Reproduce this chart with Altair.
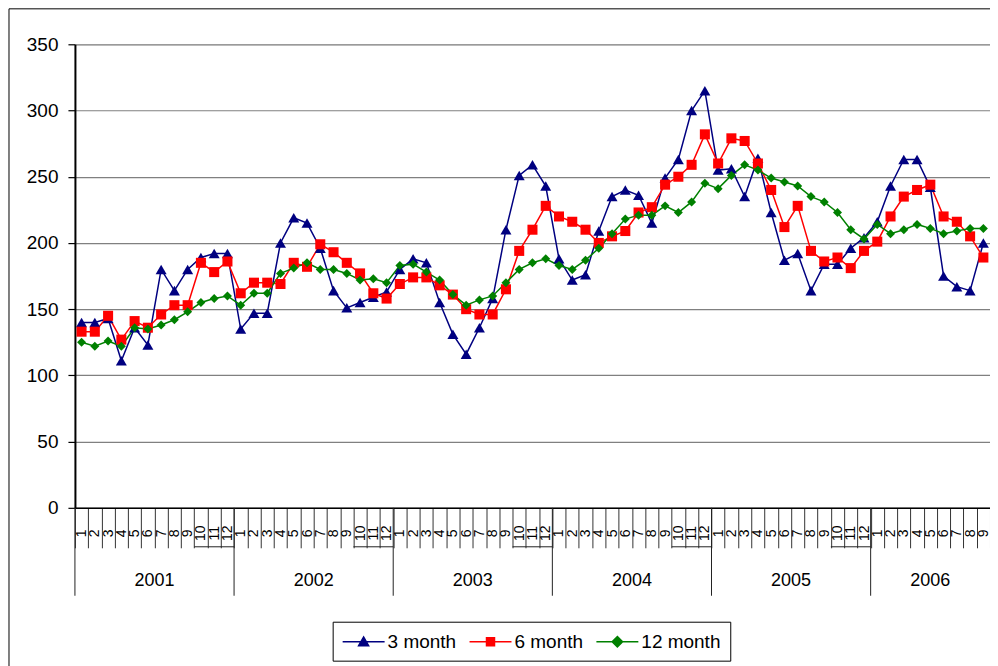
import json
import altair as alt
import pandas as pd

# ---------------- data ----------------
years = [2001, 2002, 2003, 2004, 2005, 2006]
months_per_year = [12, 12, 12, 12, 12, 9]
series_names = ["3 month", "6 month", "12 month"]
series_colors = ["#000080", "#FF0000", "#008000"]
y_ticks = [0, 50, 100, 150, 200, 250, 300, 350]

m3 = [140, 140, 143, 111, 136, 123, 180, 164, 180, 189, 192, 192,
      135, 147, 147, 200, 219, 215, 196, 164, 151, 155, 159, 163,
      180, 188, 185, 155, 131, 116, 136, 158, 210, 251, 259, 243,
      188, 172, 176, 209, 235, 240, 236, 215, 249, 263, 300, 315,
      255, 256, 235, 264, 223, 187, 192, 164, 184, 184, 196, 204,
      216, 243, 263, 263, 242, 175, 167, 164, 200]
m6 = [133, 133, 145, 127, 141, 136, 146, 153, 153, 185, 178, 186,
      162, 170, 170, 169, 185, 182, 199, 193, 185, 177, 162, 158,
      169, 174, 174, 168, 161, 150, 146, 146, 165, 194, 210, 228,
      220, 216, 210, 200, 205, 209, 223, 227, 244, 250, 259, 282,
      260, 279, 277, 260, 240, 212, 228, 194, 186, 189, 181, 194,
      201, 220, 235, 240, 244, 220, 216, 205, 189]
m12 = [125, 122, 126, 122, 136, 135, 138, 142, 148, 155, 158, 160,
       153, 162, 162, 177, 181, 185, 180, 180, 177, 172, 173, 170,
       183, 184, 178, 172, 161, 153, 157, 160, 170, 180, 185, 188,
       183, 180, 187, 196, 207, 218, 221, 221, 228, 223, 231, 245,
       241, 251, 259, 255, 249, 246, 243, 235, 231, 223, 210, 203,
       214, 207, 210, 214, 211, 207, 209, 211, 211]

# ---------------- tables ----------------
month_labels = []
year_rows, bracket_rows = [], []
start = 0
for yr, n in zip(years, months_per_year):
    month_labels += [str(m) for m in range(1, n + 1)]
    year_rows.append({"year": str(yr), "mid": start + n / 2, "start": start})
    if n == 12:
        bracket_rows.append({"b0": start + 9, "b1": start + 12})
    start += n
n_total = start
boundary_vals = list(range(n_total + 1))
centers = [i + 0.5 for i in range(n_total)]

rows = []
for name, vals in zip(series_names, [m3, m6, m12]):
    for i, v in enumerate(vals):
        rows.append({"pos": i + 0.5, "series": name, "value": v})
df = pd.DataFrame(rows)
years_df = pd.DataFrame(year_rows)
bracket_df = pd.DataFrame(bracket_rows)

FONT = "Liberation Sans"
W, H = 916, 464
xscale = alt.Scale(domain=[0, n_total], nice=False, zero=False)
yscale = alt.Scale(domain=[0, 350], nice=False)
color_scale = alt.Scale(domain=series_names, range=series_colors)

y_axis = alt.Axis(values=y_ticks, title=None, grid=True, gridColor="#808080",
                  gridWidth=1.2, domainColor="black", domainWidth=2,
                  tickColor="black", tickSize=7, tickWidth=1.2,
                  labelFontSize=19, labelFont=FONT, labelColor="black",
                  labelPadding=10, orient="left")

axis_ticks = alt.Axis(values=boundary_vals, labels=False, ticks=True, tickSize=40,
                      tickColor="#333333", tickWidth=1, domain=True, orient="bottom",
                      domainColor="black", domainWidth=1.5, grid=False, title=None)

axis_months = alt.Axis(values=centers, ticks=False, domain=False, grid=False,
                       title=None, labelAngle=270, labelAlign="center", orient="bottom",
                       labelBaseline="middle", labelPadding=25,
                       labelFontSize=14, labelFont=FONT, labelColor="black",
                       labelOverlap=False, labelFlush=False,
                       labelExpr=json.dumps(month_labels) + "[floor(datum.value)]")

base = alt.Chart(df)

lines = base.mark_line(strokeWidth=1.5).encode(
    x=alt.X("pos:Q", scale=xscale, axis=axis_ticks),
    y=alt.Y("value:Q", scale=yscale, axis=y_axis),
    color=alt.Color("series:N", scale=color_scale, legend=None),
    detail="series:N",
)

points = base.mark_point(filled=True, opacity=1).encode(
    x=alt.X("pos:Q", scale=xscale, axis=axis_months),
    y=alt.Y("value:Q", scale=yscale, axis=y_axis),
    color=alt.Color("series:N", scale=color_scale, legend=None),
    shape=alt.Shape("series:N", scale=alt.Scale(domain=series_names,
                    range=["triangle-up", "square", "diamond"]), legend=None),
    size=alt.Size("series:N", scale=alt.Scale(domain=series_names,
                  range=[121, 81, 100]), legend=None),
)

year_rules = alt.Chart(years_df).mark_rule(color="#222222", strokeWidth=1).encode(
    x=alt.X("start:Q", scale=xscale, axis=None),
    y=alt.value(H), y2=alt.value(H + 88),
)

brackets = alt.Chart(bracket_df).mark_rule(color="#222222", strokeWidth=1).encode(
    x=alt.X("b0:Q", scale=xscale, axis=None), x2="b1:Q",
    y=alt.value(H + 39),
)

year_text = alt.Chart(years_df).mark_text(fontSize=18, font=FONT, color="black",
                                           baseline="middle", align="center").encode(
    x=alt.X("mid:Q", scale=xscale, axis=None),
    y=alt.value(H + 73),
    text="year:N",
)

# legend symbols: a line with a marker, drawn larger than the layout size
tri = "M-2.1,0L2.1,0M-0.5,0.4L0,-0.48L0.5,0.4Z"
sq = "M-2.1,0L2.1,0M-0.4,-0.4L0.4,-0.4L0.4,0.4L-0.4,0.4Z"
dia = "M-2.1,0L2.1,0M0,-0.52L0.52,0L0,0.52L-0.52,0Z"
legend_def = alt.Legend(orient="none", legendX=258, legendY=578, direction="horizontal",
                        title=None, strokeColor="black", fillColor="white", padding=9,
                        labelFontSize=19, labelFont=FONT, labelColor="black",
                        symbolSize=400, symbolStrokeWidth=1.5, symbolOpacity=1,
                        symbolOffset=11, labelOffset=13, columnPadding=10)
legend_layer = alt.Chart(alt.Data(values=[])).mark_point(filled=True, opacity=1,
                                                           strokeWidth=1.5).encode(
    fill=alt.Fill("series:N", scale=alt.Scale(domain=series_names, range=series_colors),
                  legend=legend_def),
    stroke=alt.Stroke("series:N", scale=alt.Scale(domain=series_names, range=series_colors),
                      legend=legend_def),
    shape=alt.Shape("series:N", scale=alt.Scale(domain=series_names, range=[tri, sq, dia]),
                    legend=legend_def),
)

border = alt.Chart(alt.Data(values=[{"a": 1}])).mark_rect(
    fillOpacity=0, stroke="black", strokeWidth=1).encode(
    x=alt.value(-66), x2=alt.value(1000), y=alt.value(-35.5), y2=alt.value(900),
)

chart = alt.layer(border, lines, points, year_rules, brackets, year_text, legend_layer).resolve_scale(
    shape="independent", fill="independent", stroke="independent"
).resolve_axis(x="independent").properties(
    width=W, height=H,
    autosize=alt.AutoSizeParams(type="none"),
    padding={"left": 67, "top": 36, "right": 0, "bottom": 158},
).configure_view(stroke="#808080", strokeWidth=1.5).configure(font=FONT)

chart.save("out.html", embed_options={"renderer": "svg", "actions": False})
